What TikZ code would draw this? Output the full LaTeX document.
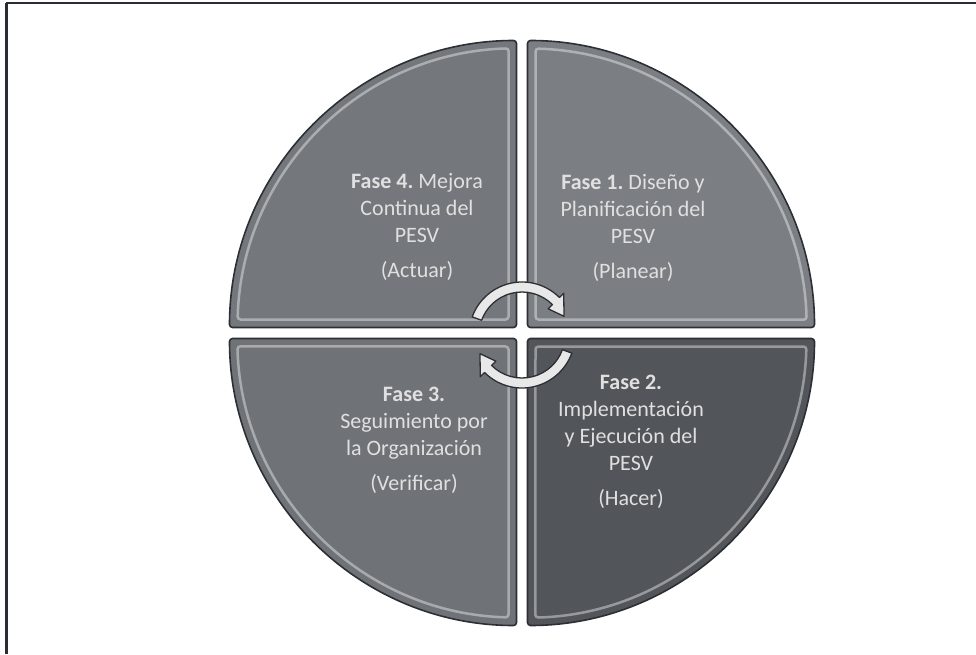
\documentclass[tikz,border=0pt]{standalone}
\usepackage{fontspec}
\setmainfont{Carlito}
\usepackage{tikz}
\usetikzlibrary{positioning}
\frenchspacing

\definecolor{frameline}{HTML}{2A2E33}
\definecolor{quadedge}{HTML}{2C3035}
\definecolor{planear}{HTML}{7B7F84}
\definecolor{hacer}{HTML}{52565B}
\definecolor{verificar}{HTML}{6F7378}
\definecolor{actuar}{HTML}{74787D}
\definecolor{fasetext}{HTML}{E0E0E0}
\definecolor{cyclefill}{HTML}{E8E8E8}

\tikzset{
  quadrant/.style={draw=quadedge, line width=1.6pt, rounded corners=3pt},
  bevel/.style={draw=white, draw opacity=0.4, line width=2.5pt, rounded corners=3pt},
  fasetxt/.style={text=fasetext, align=center, font=\fontsize{22}{27}\selectfont},
  cyclearrow/.style={fill=cyclefill, draw=quadedge, line width=1.3pt, line join=round},
}

\begin{document}
\begin{tikzpicture}[x=1pt,y=1pt]
  \useasboundingbox (0,0) rectangle (976,654);
  % border of the scanned page
  \draw[frameline, line width=3pt] (6,0) -- (6,651);
  \draw[frameline, line width=1.5pt] (6,651) -- (976,651);

  \begin{scope}[shift={(522,321)}]
    % the four phases
    \foreach \ang/\col in {0/planear, 90/actuar, 180/verificar, 270/hacer} {
      \filldraw[quadrant, fill=\col, rotate=\ang] (5.5,5.5) -- (5.5,292.5)
        arc[start angle=90, end angle=0, radius=287] -- cycle;
      \draw[bevel, rotate=\ang] (13.5,13.5) -- (13.5,284.4)
        arc[start angle=88.4, end angle=1.6, radius=279] -- cycle;
    }
  \end{scope}

  \begin{scope}[shift={(522,319)}]
    % cycle arrows
    \foreach \ang in {0,180} {
      \filldraw[cyclearrow, rotate=\ang] (160:53) arc[start angle=160, end angle=45, radius=53]
        -- (45:59) -- (24:46) -- (45:37) -- (45:43)
        arc[start angle=45, end angle=160, radius=43] -- cycle;
    }
  \end{scope}

  \node[fasetxt] (fase1) at (633,426) {\textbf{Fase 1.} Diseño y\\Planificación del\\PESV\\[8pt](Planear)};
  \node[fasetxt] (fase2) at (631,212) {\textbf{Fase 2.}\\Implementación\\y Ejecución del\\PESV\\[8pt](Hacer)};
  \node[fasetxt] (fase3) at (414,214) {\textbf{Fase 3.}\\Seguimiento por\\la Organización\\[8pt](Verificar)};
  \node[fasetxt] (fase4) at (417,427) {\textbf{Fase 4.} Mejora\\Continua del\\PESV\\[8pt](Actuar)};
\end{tikzpicture}
\end{document}
